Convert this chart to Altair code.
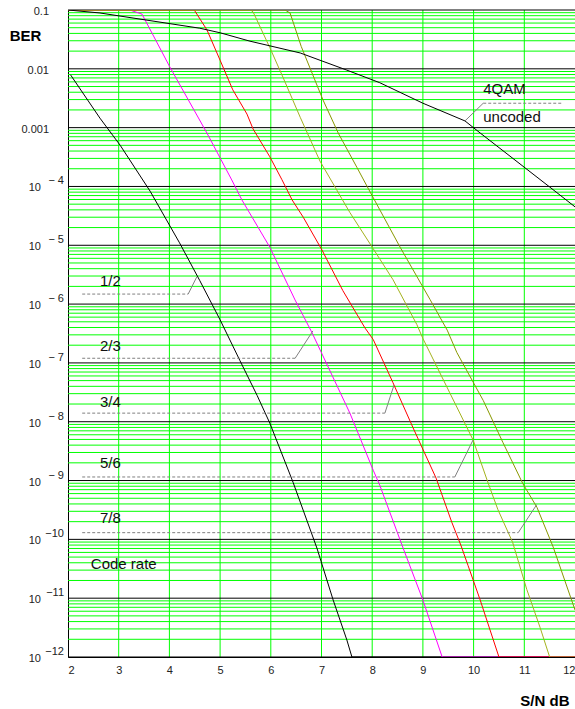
import altair as alt
import pandas as pd

# ---- BER curves (S/N in dB, bit error rate) ----
snr_r12 = [2.05, 2.63, 3.03, 3.62, 4.20, 4.60, 5.00, 5.39, 5.73, 5.98, 6.44, 6.91, 7.23, 7.50, 7.60, 12.0]
ber_r12 = [7.9e-3, 1.45e-3, 5.0e-4, 8.3e-5, 1.1e-5, 2.5e-6, 5.4e-7, 1.1e-7, 2.8e-8, 9.5e-9,
           9.3e-10, 7.1e-11, 9.3e-12, 1.95e-12, 1e-12, 1e-12]

snr_r23 = [2.0, 3.22, 3.46, 4.01, 4.74, 5.23, 5.43, 5.98, 6.48, 6.81, 7.56, 8.02, 8.15, 8.61, 9.00, 9.38, 12.0]
ber_r23 = [0.1, 0.1, 8.5e-2, 1.07e-2, 8.1e-4, 1.29e-4, 5.9e-5, 9.3e-6, 1.17e-6, 3.3e-7, 1.4e-8,
           1.5e-9, 8.3e-10, 7.1e-11, 9.3e-12, 1e-12, 1e-12]

snr_r34 = [2.0, 4.49, 4.74, 5.00, 5.25, 5.53, 5.65, 5.98, 6.22, 6.42, 6.64, 7.01, 7.42, 7.86, 8.02,
           8.41, 8.80, 9.26, 9.57, 9.75, 9.89, 10.13, 10.50, 12.0]
ber_r34 = [0.1, 0.1, 4.6e-2, 1.4e-2, 4.4e-3, 1.7e-3, 9.5e-4, 3.2e-4, 1.3e-4, 5.9e-5, 3.0e-5, 8.3e-6,
           1.7e-6, 3.9e-7, 2.5e-7, 4.6e-8, 8.1e-9, 1.1e-9, 1.95e-10, 7.9e-11, 3.6e-11, 9.3e-12,
           1e-12, 1e-12]

snr_r56 = [2.0, 5.60, 5.65, 5.98, 6.24, 6.58, 6.97, 7.40, 7.56, 8.00, 8.41, 8.88, 9.00, 9.53, 9.99,
           10.29, 10.48, 10.77, 11.05, 11.31, 11.50, 12.0]
ber_r56 = [0.1, 0.1, 9.3e-2, 2.3e-2, 7.2e-3, 1.5e-3, 2.7e-4, 6.2e-5, 3.6e-5, 9.3e-6, 2.6e-6, 4.5e-7,
           2.6e-7, 3.1e-8, 4.9e-9, 8.9e-10, 3.2e-10, 8.9e-11, 1.4e-11, 3.2e-12, 1e-12, 1e-12]

snr_r78 = [2.0, 6.28, 6.38, 6.60, 7.03, 7.33, 7.70, 7.90, 8.55, 9.00, 9.14, 9.48, 9.67, 10.19,
           10.58, 10.97, 11.25, 11.57, 12.0]
ber_r78 = [0.1, 0.1, 8.9e-2, 2.4e-2, 2.95e-3, 8.1e-4, 2.1e-4, 1.0e-4, 9.3e-6, 1.95e-6, 1.2e-6,
           3.6e-7, 1.5e-7, 2.3e-8, 4.4e-9, 8.9e-10, 3.5e-10, 7.4e-11, 6.3e-12]

snr_unc = [2.0, 2.63, 4.60, 5.00, 5.59, 6.58, 7.50, 8.15, 9.00, 9.83, 10.13, 11.50, 12.0]
ber_unc = [0.1, 8.9e-2, 4.9e-2, 4.1e-2, 2.95e-2, 1.86e-2, 9.5e-3, 5.8e-3, 2.6e-3, 1.3e-3, 8.1e-4,
           9.8e-5, 4.5e-5]

series = [
    ("1/2", snr_r12, ber_r12, "#000000"),
    ("2/3", snr_r23, ber_r23, "#ff00ff"),
    ("3/4", snr_r34, ber_r34, "#ff0000"),
    ("5/6", snr_r56, ber_r56, "#a4b21e"),
    ("7/8", snr_r78, ber_r78, "#889800"),
    ("4QAM uncoded", snr_unc, ber_unc, "#000000"),
]

# ---- leader lines from the rate labels to their curves ----
lead_names = ["1/2", "2/3", "3/4", "5/6", "7/8", "4QAM"]
lead_x0 = [2.28, 2.28, 2.28, 2.28, 2.28, 10.19]
lead_x1 = [4.37, 6.48, 8.25, 9.63, 10.88, 11.76]
lead_y = [1.48e-6, 1.2e-7, 1.4e-8, 1.15e-9, 1.3e-10, 2.6e-3]
elbow_x = [4.37, 6.48, 8.25, 9.63, 10.88, 10.19]
tip_x = [4.54, 6.83, 8.43, 9.99, 11.245, 9.83]
tip_y = [2.9e-6, 3.5e-7, 4.2e-8, 4.9e-9, 3.9e-10, 1.3e-3]

label_text = ["1/2", "2/3", "3/4", "5/6", "7/8", "Code rate", "4QAM", "uncoded"]
label_x = [2.63, 2.63, 2.63, 2.63, 2.63, 2.45, 10.19, 10.19]
label_y = [2.45e-6, 1.95e-7, 2.2e-8, 2.0e-9, 2.3e-10, 3.8e-11, 4.6e-3, 1.5e-3]

# ---- axes ticks ----
x_ticks = list(range(2, 13))
y_dec_vals = [0.1, 0.01, 0.001]
y_dec_text = ["0.1", "0.01", "0.001"]
y_pow_vals = [1e-4, 1e-5, 1e-6, 1e-7, 1e-8, 1e-9, 1e-10, 1e-11, 1e-12]
y_pow_exp = ["\u2212 4", "\u2212 5", "\u2212 6", "\u2212 7", "\u2212 8", "\u2212 9",
             "\u221210", "\u221211", "\u221212"]

FONT = "Liberation Sans"
W, H = 507, 647

xscale = alt.Scale(domain=[2, 12], nice=False, zero=False)
yscale = alt.Scale(type="log", domain=[1e-12, 0.1], nice=False)
xaxis = alt.Axis(values=x_ticks, format="d", labelFlush=True, ticks=False, grid=False,
                 domain=True, domainColor="black", labelFontSize=11, labelPadding=7,
                 labelFont=FONT, labelColor="#222222", title="S/N dB", titleFont=FONT,
                 titleFontSize=15, titleFontWeight="bold", titleColor="black",
                 titleX=501, titleY=43, titleAlign="right", titleBaseline="middle")
yaxis = alt.Axis(labels=False, ticks=False, grid=False, domain=True, domainColor="black",
                 title="BER", titleFont=FONT, titleFontSize=15, titleFontWeight="bold",
                 titleColor="black", titleAngle=0, titleX=-43, titleY=25,
                 titleAlign="center", titleBaseline="middle")

X = alt.X("snr:Q", scale=xscale, axis=xaxis)
Y = alt.Y("ber:Q", scale=yscale, axis=yaxis)

# grid: green minor lines at 2..9 x 10^k, black decades, green verticals
minor = [m * 10.0 ** k for k in range(-12, -1) for m in range(2, 10)]
major = [10.0 ** k for k in range(-12, 0)]
grid_minor = alt.Chart(pd.DataFrame({"ber": minor})).mark_rule(
    color="#00ff00", strokeWidth=1).encode(y=Y)
grid_vert = alt.Chart(pd.DataFrame({"snr": x_ticks[1:-1]})).mark_rule(
    color="#00ff00", strokeWidth=1).encode(x=X)
grid_major = alt.Chart(pd.DataFrame({"ber": major})).mark_rule(
    color="#000000", strokeWidth=1).encode(y=Y)

curves = []
for name, xs, ys, col in series:
    df = pd.DataFrame({"snr": xs, "ber": ys, "curve": name, "idx": range(len(xs))})
    curves.append(
        alt.Chart(df).mark_line(color=col, strokeWidth=1, clip=True).encode(
            x=X, y=Y, order="idx:Q")
    )

lead_df = pd.DataFrame({"name": lead_names, "snr": lead_x0, "snr2": lead_x1, "ber": lead_y,
                        "ex": elbow_x, "tx": tip_x, "ty": tip_y})
dashed = alt.Chart(lead_df).mark_rule(color="#808080", strokeWidth=1,
                                      strokeDash=[3, 2]).encode(x=X, x2="snr2:Q", y=Y)
diag = alt.Chart(lead_df).mark_rule(color="#808080", strokeWidth=1).encode(
    x=alt.X("ex:Q", scale=xscale, axis=xaxis), x2="tx:Q",
    y=alt.Y("ber:Q", scale=yscale, axis=yaxis), y2="ty:Q")

labels = alt.Chart(pd.DataFrame({"snr": label_x, "ber": label_y, "txt": label_text})).mark_text(
    align="left", baseline="middle", font=FONT, fontSize=15, color="#111111").encode(
    x=X, y=Y, text="txt:N")

ylab_dec = alt.Chart(pd.DataFrame({"ber": y_dec_vals, "txt": y_dec_text})).mark_text(
    align="right", baseline="middle", dy=2, font=FONT, fontSize=11, color="#222222").encode(
    x=alt.value(-19), y=Y, text="txt:N")
ylab_base = alt.Chart(pd.DataFrame({"ber": y_pow_vals, "txt": ["10"] * len(y_pow_vals)})).mark_text(
    align="right", baseline="middle", dy=2, font=FONT, fontSize=11, color="#222222").encode(
    x=alt.value(-27), y=Y, text="txt:N")
ylab_exp = alt.Chart(pd.DataFrame({"ber": y_pow_vals, "txt": y_pow_exp})).mark_text(
    align="right", baseline="middle", dy=-5, font=FONT, fontSize=11, color="#222222").encode(
    x=alt.value(-4), y=Y, text="txt:N")

chart = alt.layer(
    grid_minor, grid_vert, grid_major, *curves, dashed, diag, labels,
    ylab_dec, ylab_base, ylab_exp
).properties(
    width=W, height=H,
    autosize=alt.AutoSizeParams(type="none"),
    padding={"left": 68, "top": 10, "right": 0, "bottom": 52},
    background="white",
).configure_view(stroke=None)

chart.save("out.html", embed_options={"renderer": "svg", "actions": False})
